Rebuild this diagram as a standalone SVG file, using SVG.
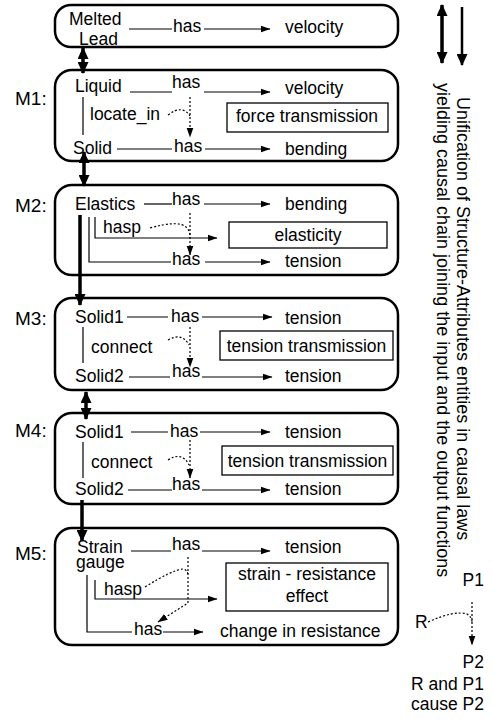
<svg xmlns="http://www.w3.org/2000/svg" width="493" height="721" viewBox="0 0 493 721">
<defs>
<marker id="ah" markerUnits="userSpaceOnUse" markerWidth="10" markerHeight="8" refX="9.5" refY="4" orient="auto"><path d="M0,0.5 L10,4 L0,7.5 z" fill="#000"/></marker>
<marker id="tk" markerUnits="userSpaceOnUse" markerWidth="12" markerHeight="11" refX="11" refY="5.5" orient="auto-start-reverse"><path d="M0,0 L12,5.5 L0,11 z" fill="#000"/></marker>
<style>
text{font-family:"Liberation Sans",Arial,sans-serif;font-size:17.5px;fill:#000}
.m{font-size:19px}
.v{font-size:18px}
.box{fill:none;stroke:#000;stroke-width:2.5}
.rect{fill:none;stroke:#000;stroke-width:1.3}
.ln{fill:none;stroke:#000;stroke-width:1.2}
.dot{fill:none;stroke:#000;stroke-width:1.2;stroke-dasharray:2 2}
.thick{fill:none;stroke:#000;stroke-width:3.5}
.c{text-anchor:middle}
.e{text-anchor:end}
</style>
</defs>
<rect width="493" height="721" fill="#fff"/>

<g id="melted-lead">
<rect class="box" x="55" y="5" width="343" height="42" rx="16"/>
<text x="69" y="25">Melted</text>
<text x="79" y="45">Lead</text>
<path class="ln" d="M129,29 H172"/><text x="173" y="32">has</text><path class="ln" d="M204,29 H270" marker-end="url(#ah)"/>
<text x="285" y="33">velocity</text>
</g>

<g id="m1">
<text class="m" x="15" y="105">M1:</text>
<rect class="box" x="55" y="70" width="343" height="91" rx="17"/>
<text x="75" y="92">Liquid</text>
<path class="ln" d="M130,92 H172"/><text x="172" y="88">has</text><path class="ln" d="M204,92 H270" marker-end="url(#ah)"/>
<text x="285" y="94">velocity</text>
<path class="ln" d="M83,97 V135"/>
<text x="90" y="120">locate_in</text>
<rect class="rect" x="227" y="103" width="161" height="29"/>
<text x="307" y="122" class="c">force transmission</text>
<path class="dot" d="M190,97 V137" marker-end="url(#ah)"/>
<path class="dot" d="M168,115 Q182,104 190,116"/>
<text x="73" y="154">Solid</text>
<path class="ln" d="M117,149 H172"/><text x="174" y="152">has</text><path class="ln" d="M205,149 H270" marker-end="url(#ah)"/>
<text x="285" y="155">bending</text>
</g>

<g id="m2">
<text class="m" x="15" y="212">M2:</text>
<rect class="box" x="55" y="185" width="343" height="90" rx="17"/>
<text x="75" y="210">Elastics</text>
<path class="ln" d="M144,204 H172"/><text x="172" y="205">has</text><path class="ln" d="M204,204 H270" marker-end="url(#ah)"/>
<text x="285" y="210">bending</text>
<path class="dot" d="M190,213 V255" marker-end="url(#ah)"/>
<text x="103" y="233">hasp</text>
<path class="dot" d="M150,228 Q178,220 186,227 Q190,231 190,236"/>
<path class="ln" d="M95,217 V238 H217" marker-end="url(#ah)"/>
<rect class="rect" x="229" y="222" width="158" height="26"/>
<text x="308" y="241" class="c">elasticity</text>
<path class="ln" d="M89,217 V262 H171"/><text x="172" y="265">has</text><path class="ln" d="M205,262 H270" marker-end="url(#ah)"/>
<text x="285" y="267">tension</text>
</g>

<g id="m3">
<text class="m" x="15" y="325">M3:</text>
<rect class="box" x="55" y="298" width="343" height="92" rx="17"/>
<text x="75" y="323">Solid1</text>
<path class="ln" d="M127,317 H168"/><text x="171" y="322">has</text><path class="ln" d="M202,317 H272" marker-end="url(#ah)"/>
<text x="285" y="324">tension</text>
<path class="dot" d="M190,327 V367" marker-end="url(#ah)"/>
<path class="dot" d="M168,340 Q182,332 189,345"/>
<text x="91" y="353">connect</text>
<path class="ln" d="M83,327 V363"/>
<rect class="rect" x="220" y="331" width="173" height="29"/>
<text x="306.5" y="352" class="c">tension transmission</text>
<text x="75" y="382">Solid2</text>
<path class="ln" d="M129,377 H170"/><text x="172" y="377">has</text><path class="ln" d="M202,377 H272" marker-end="url(#ah)"/>
<text x="285" y="382">tension</text>
</g>

<g id="m4">
<text class="m" x="15" y="437">M4:</text>
<rect class="box" x="55" y="413" width="343" height="91" rx="17"/>
<text x="75" y="438">Solid1</text>
<path class="ln" d="M131,432 H168"/><text x="170" y="437">has</text><path class="ln" d="M200,432 H270" marker-end="url(#ah)"/>
<text x="285" y="438">tension</text>
<path class="dot" d="M190,440 V478" marker-end="url(#ah)"/>
<path class="dot" d="M168,460 Q182,451 189,465"/>
<text x="91" y="468">connect</text>
<path class="ln" d="M83,442 V478"/>
<rect class="rect" x="222" y="446" width="171" height="29"/>
<text x="307.5" y="467" class="c">tension transmission</text>
<text x="75" y="495">Solid2</text>
<path class="ln" d="M128,490 H172"/><text x="172" y="490">has</text><path class="ln" d="M202,490 H270" marker-end="url(#ah)"/>
<text x="285" y="495">tension</text>
</g>

<g id="m5">
<text class="m" x="15" y="560">M5:</text>
<rect class="box" x="55" y="528" width="343" height="117" rx="17"/>
<text x="77" y="553">Strain</text>
<text x="76" y="568">gauge</text>
<path class="ln" d="M131,551 H171"/><text x="172" y="550">has</text><path class="ln" d="M202,551 H270" marker-end="url(#ah)"/>
<text x="285" y="553">tension</text>
<path class="dot" d="M188,557 V603 L158,622" marker-end="url(#ah)"/>
<path class="dot" d="M145,587 Q172,570 183,569 Q188,570 188,576"/>
<text x="104" y="595">hasp</text>
<path class="ln" d="M95,580 V599 H217" marker-end="url(#ah)"/>
<rect class="rect" x="226" y="563" width="162" height="48"/>
<text x="307" y="580" class="c">strain - resistance</text>
<text x="307" y="602" class="c">effect</text>
<path class="ln" d="M87,575 V632 H132"/><text x="134" y="635">has</text><path class="ln" d="M163,632 H203" marker-end="url(#ah)"/>
<text x="220" y="637">change in resistance</text>
</g>

<g id="connectors">
<path class="thick" d="M83,48 V73" marker-start="url(#tk)" marker-end="url(#tk)"/>
<path class="thick" d="M84,152 V186" marker-start="url(#tk)" marker-end="url(#tk)"/>
<path class="thick" d="M80,215 V305" marker-end="url(#tk)"/>
<path class="thick" d="M86,392 V419" marker-start="url(#tk)" marker-end="url(#tk)"/>
<path class="thick" d="M82,500 V541" marker-end="url(#tk)"/>
</g>

<g id="legend">
<path class="thick" d="M442,5 V63" marker-start="url(#tk)" marker-end="url(#tk)"/>
<path class="thick" style="stroke-width:2.5" d="M462,7 V65" marker-end="url(#tk)"/>
<text class="v" transform="translate(457,97) rotate(90)">Unification of Structure-Attributes entities in causal laws</text>
<text class="v" transform="translate(437,83) rotate(90)">yielding causal chain joining the input and the output functions</text>
<text x="484" y="586" class="e">P1</text>
<text x="415" y="628">R</text>
<path class="dot" d="M472,602 V645" marker-end="url(#ah)"/>
<path class="dot" d="M428,622 Q455,610 467,614 Q472,617 472,622"/>
<text x="484" y="668" class="e">P2</text>
<text x="484" y="690" class="e">R and P1</text>
<text x="484" y="710" class="e">cause P2</text>
</g>
</svg>
